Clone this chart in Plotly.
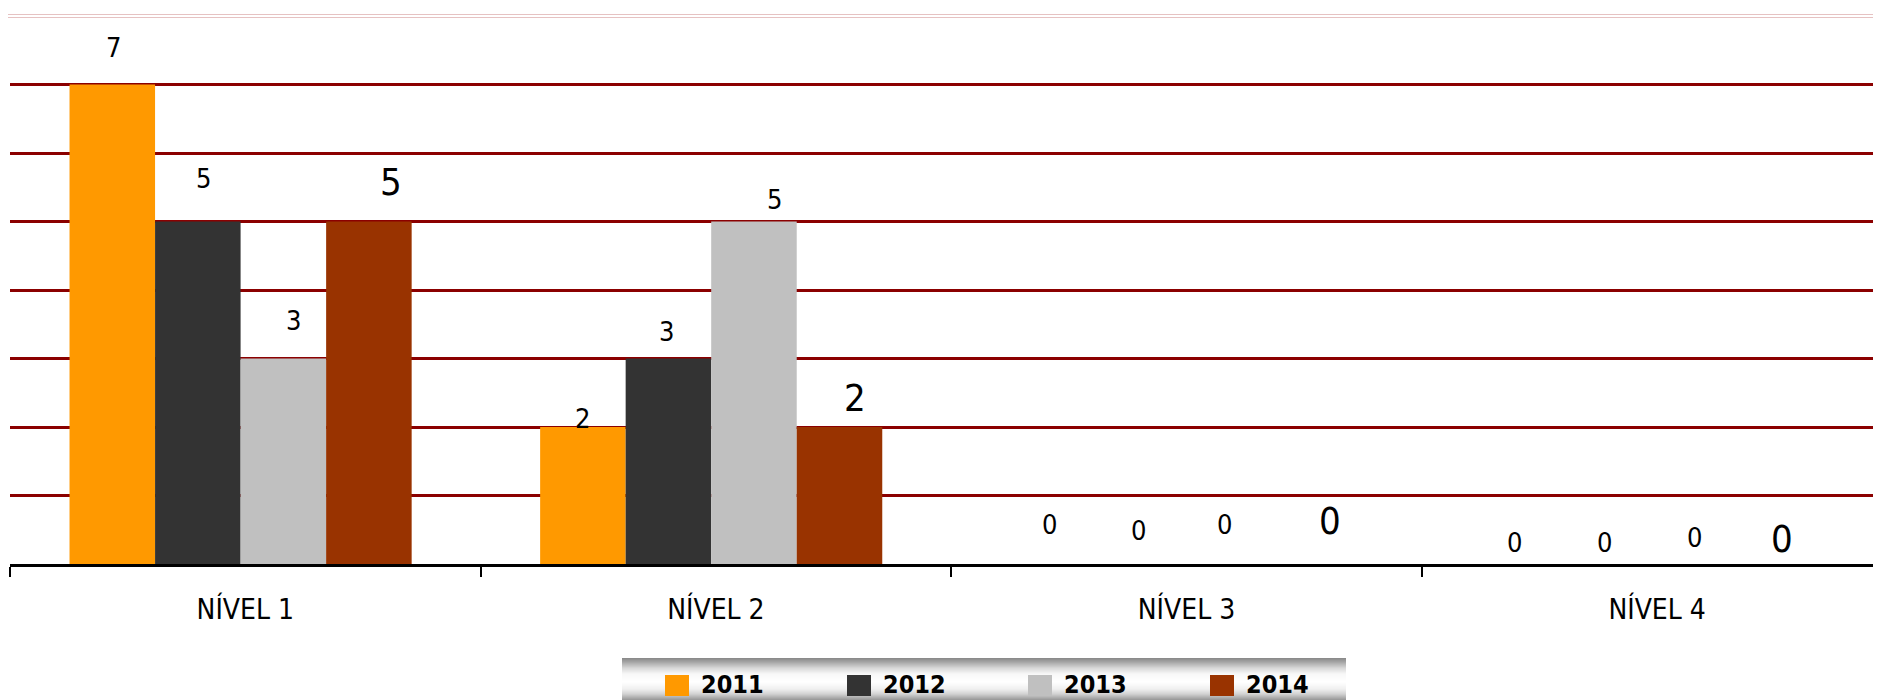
import plotly.graph_objects as go

# ---------------- data ----------------
categories = ["NÍVEL 1", "NÍVEL 2", "NÍVEL 3", "NÍVEL 4"]
years = ["2011", "2012", "2013", "2014"]
v2011 = [7, 2, 0, 0]
v2012 = [5, 3, 0, 0]
v2013 = [3, 5, 0, 0]
v2014 = [5, 2, 0, 0]
series_values = [v2011, v2012, v2013, v2014]

# ---------------- styles ----------------
colors = ["#FF9900", "#333333", "#C0C0C0", "#993300"]
PAGE_OFF = 8  # default body margin of the html page
W, H = 1881 - PAGE_OFF, 700 - PAGE_OFF
ML, MR, MT, MB = 2, 0, 8, 136
plot_w = W - ML - MR
plot_h = H - MT - MB
cat_px = 470.6
group_frac = 0.727
bar_w = group_frac / 4          # bar width in category units
group_shift = -0.01             # small left shift of the bar groups (category units)
bar_px = cat_px * bar_w
FONT = "Liberation Sans Narrow, DejaVu Sans Condensed, Arial Narrow, sans-serif"

# label offsets (px) per series per category: (dx, dy)
label_dx = [[1, 0, -4, -10], [6, -2, -1, -5], [10, 21, 0, -1], [22, 16, 20, 1]]
label_dy = [[37, 9, 40, 22], [43, 27, 34, 22], [38, 22, 40, 27], [40, 29, 43, 25]]
label_size = [27, 27, 27, 38]

fig = go.Figure()
for k, (yr, vals) in enumerate(zip(years, series_values)):
    fig.add_trace(go.Bar(x=categories, y=vals, name=yr, marker_color=colors[k],
                         marker_line_width=0, showlegend=False,
                         width=bar_w, offset=-group_frac / 2 + k * bar_w + group_shift))

annotations = []
for k, vals in enumerate(series_values):
    for i, (c, v) in enumerate(zip(categories, vals)):
        annotations.append(dict(
            x=c, y=v, xref="x", yref="y", text=str(v), showarrow=False,
            xshift=(k - 1.5) * bar_px + group_shift * cat_px + label_dx[k][i],
            yshift=label_dy[k][i],
            font=dict(family=FONT, size=label_size[k], color="#000000"),
            xanchor="center", yanchor="middle"))


def px_x(px):
    # page pixel -> paper x
    return (px - PAGE_OFF - ML) / plot_w


def px_y(py):
    # page pixel -> paper y
    return (H - MB - (py - PAGE_OFF)) / plot_h


shapes = []
# top double line
for off in (1.5, -1.5):
    shapes.append(dict(type="line", xref="paper", yref="paper", x0=-0.002, x1=1,
                       ysizemode="pixel", yanchor=1, y0=off, y1=off,
                       line=dict(color="#E6C2C2", width=1.2)))

# legend background gradient
grad = [(658, 135), (662, 165), (668, 215), (674, 248), (682, 255), (689, 240),
        (694, 210), (698, 170), (700, 150)]


def gval(y):
    for (y0, g0), (y1, g1) in zip(grad[:-1], grad[1:]):
        if y0 <= y <= y1:
            return g0 + (g1 - g0) * (y - y0) / (y1 - y0)
    return grad[-1][1]


for y in range(658, 700):
    g = int(round(gval(y + 0.5)))
    shapes.append(dict(type="rect", xref="paper", yref="paper",
                       x0=px_x(622), x1=px_x(1346), y0=px_y(y + 1), y1=px_y(y),
                       line=dict(width=0), fillcolor=f"rgb({g},{g},{g})", layer="above"))

sw_x = [665, 847, 1028, 1210]
for k, yr in enumerate(years):
    shapes.append(dict(type="rect", xref="paper", yref="paper",
                       x0=px_x(sw_x[k]), x1=px_x(sw_x[k] + 24), y0=px_y(696), y1=px_y(675),
                       line=dict(width=0), fillcolor=colors[k], layer="above"))
    annotations.append(dict(x=px_x(sw_x[k] + 35), y=px_y(684), xref="paper", yref="paper",
                            text=f"<b>{yr}</b>", showarrow=False, xanchor="left", yanchor="middle",
                            borderpad=0,
                            font=dict(family=FONT, size=25, color="#000000")))

fig.update_layout(
    width=W, height=H,
    margin=dict(l=ML, r=MR, t=MT, b=MB, pad=0),
    paper_bgcolor="white", plot_bgcolor="white",
    barmode="overlay",
    showlegend=False,
    annotations=annotations, shapes=shapes,
    xaxis=dict(type="category", range=[-0.5, -0.5 + plot_w / cat_px],
               showline=True, linecolor="#000000", linewidth=3,
               ticks="outside", tickson="boundaries", ticklen=10, tickwidth=2, tickcolor="#000000",
               showgrid=False, ticklabelstandoff=18,
               tickfont=dict(family=FONT, size=28, color="#000000")),
    yaxis=dict(range=[0, 8], tickvals=[1, 2, 3, 4, 5, 6, 7], showticklabels=False,
               showgrid=True, gridcolor="#8B0000", gridwidth=3, zeroline=False,
               showline=False, ticks=""),
)

fig.write_html("out.html")
